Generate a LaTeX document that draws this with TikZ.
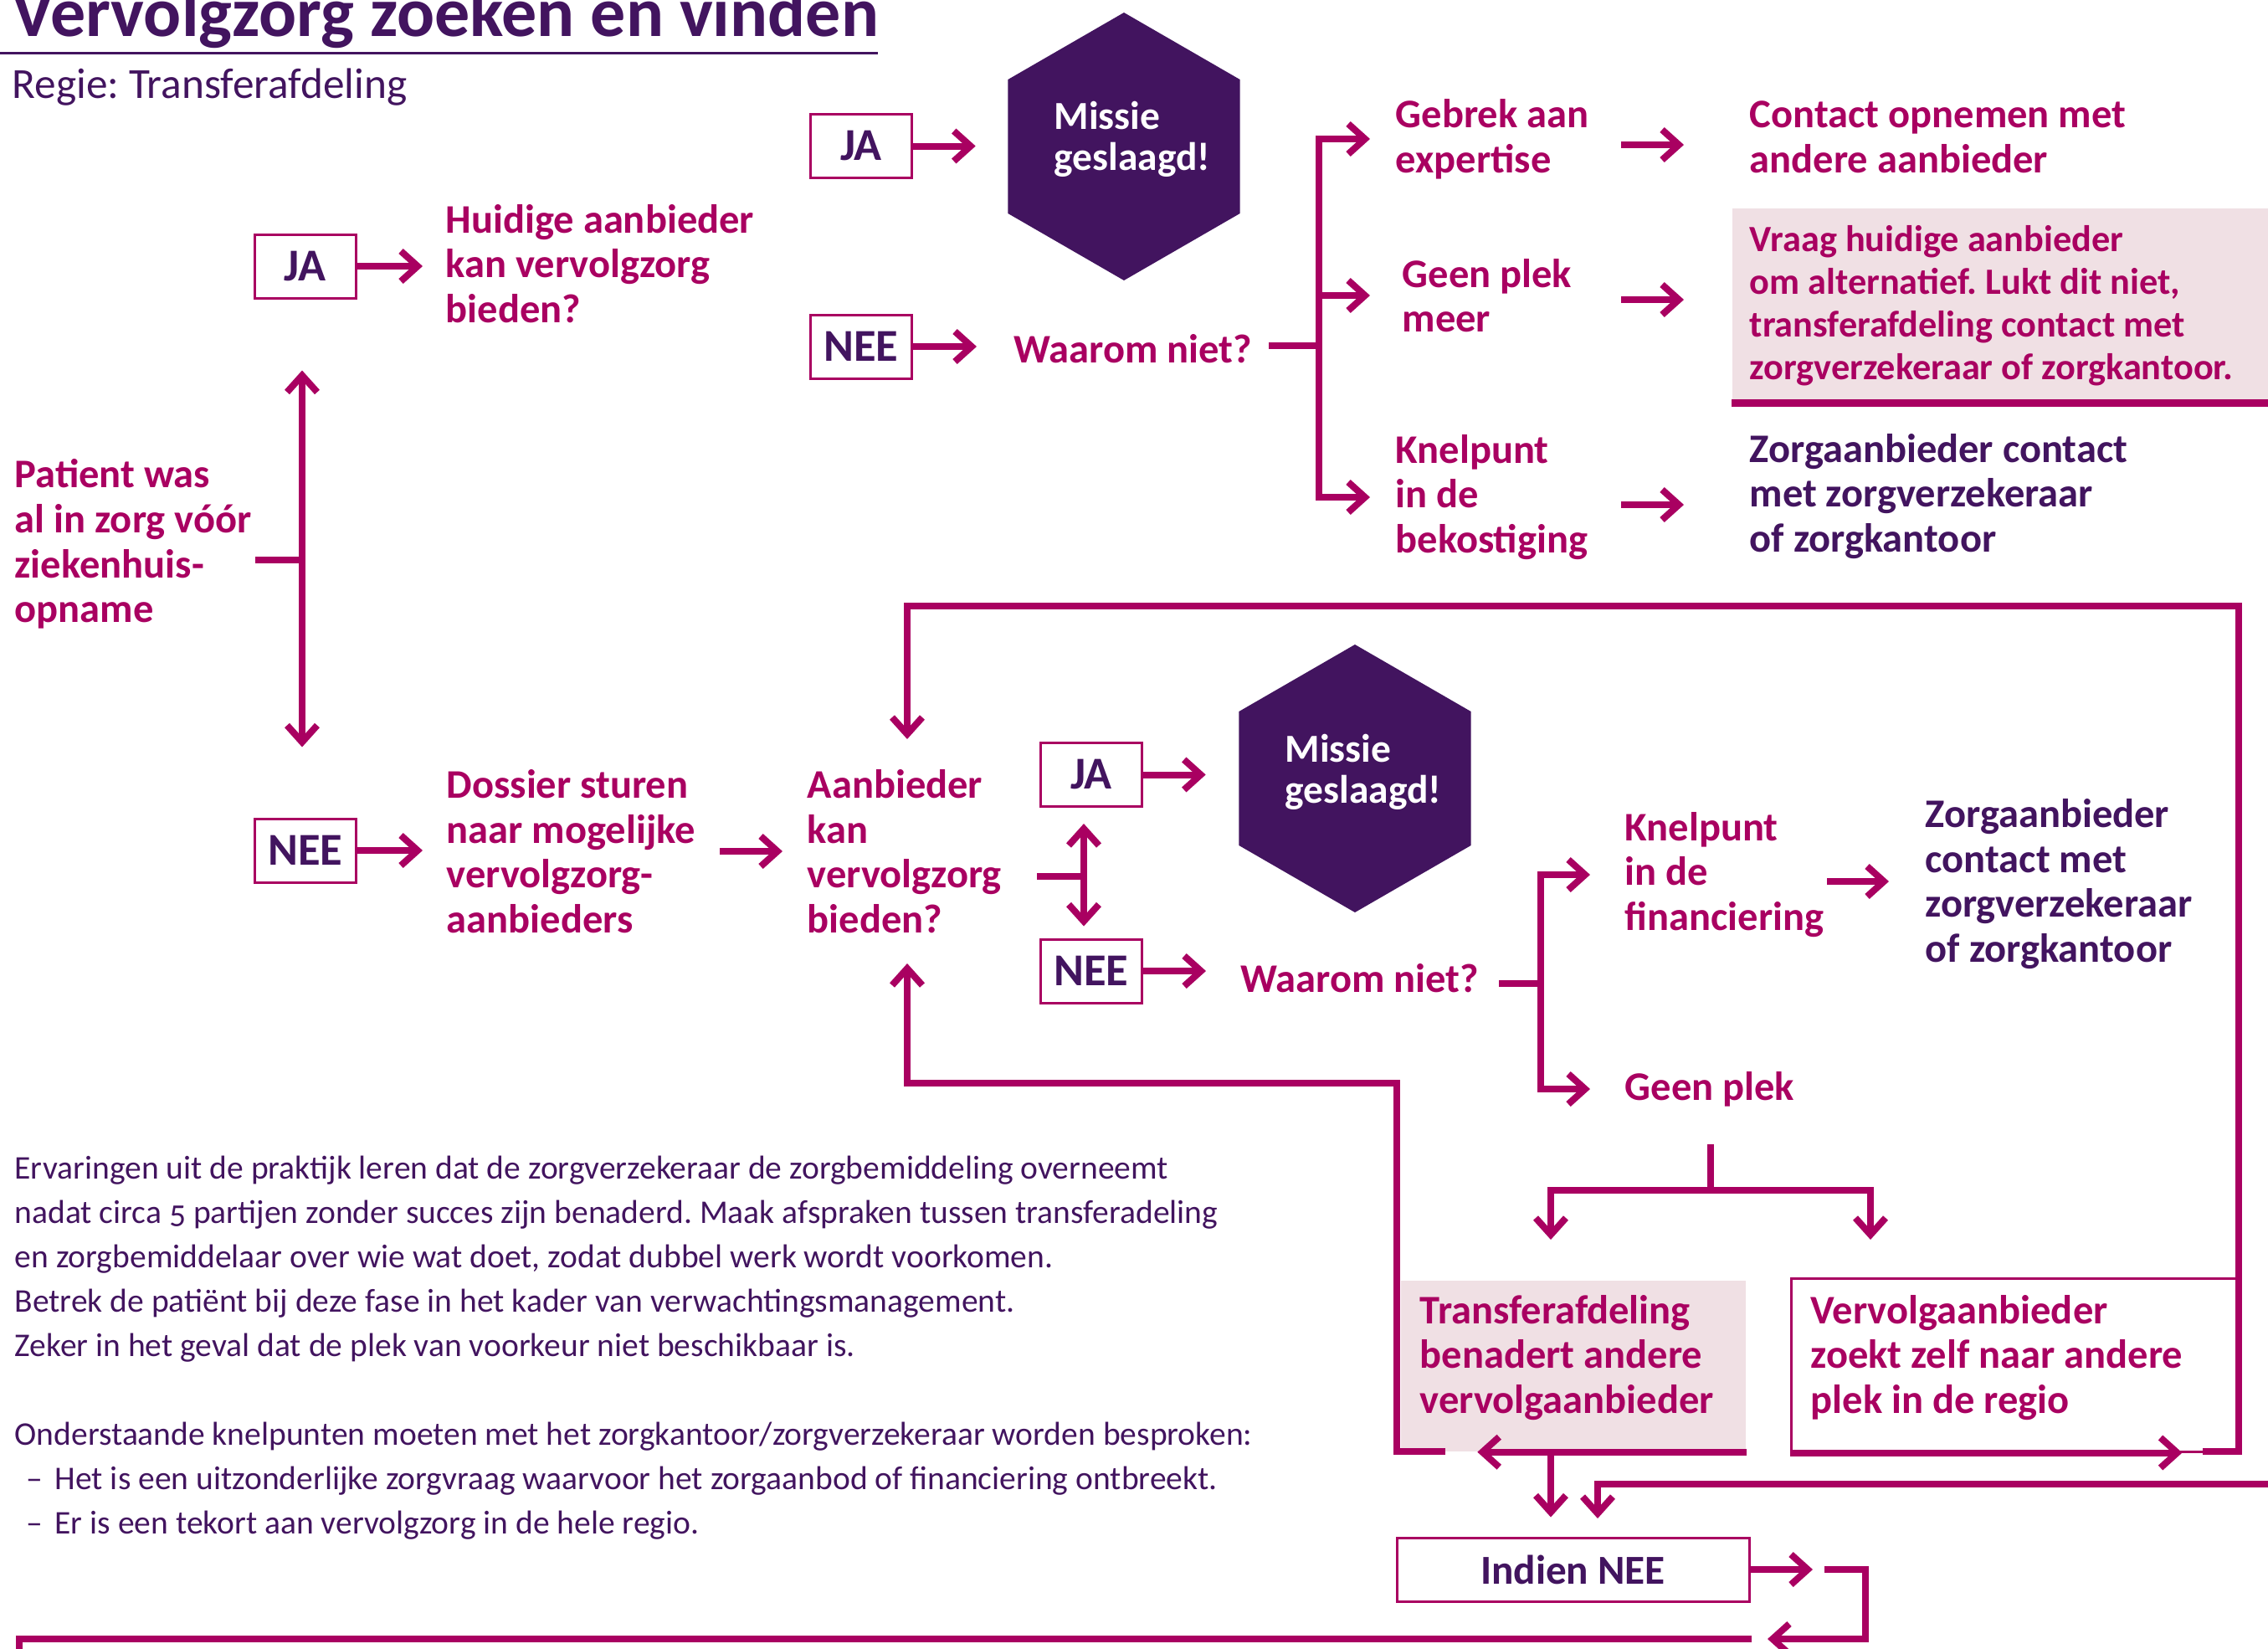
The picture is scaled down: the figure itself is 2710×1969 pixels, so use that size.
\documentclass[tikz,border=0pt]{standalone}
\usepackage{fontspec}
\setmainfont{Carlito}
\usepackage{tikz}
\usetikzlibrary{arrows.meta,shapes.geometric}
\definecolor{robijn}{HTML}{A90061}
\definecolor{paars}{HTML}{42145F}
\definecolor{roze}{HTML}{F0E0E4}
\frenchspacing

\begin{document}
\begin{tikzpicture}[x=0.1mm,y=-0.1mm]
\tikzstyle{tekst}=
[
	anchor=west, inner sep=0pt, align=flush left, text=robijn,
	font=\bfseries\fontsize{13.8}{15.25}\selectfont
]
\tikzstyle{donker}=[tekst, text=paars]
\tikzstyle{wit}=[tekst, text=white, font=\bfseries\fontsize{13.5}{14}\selectfont]
\tikzstyle{keuze}=
[
	draw=robijn, line width=0.3mm, minimum width=12.1mm, minimum height=7.6mm,
	inner sep=0pt, text=paars, font=\bfseries\fontsize{15.5}{18}\selectfont
]
\tikzstyle{zeshoek}=
[
	regular polygon, regular polygon sides=6, shape border rotate=30,
	minimum size=32mm, inner sep=0pt, fill=paars
]
\tikzstyle{lijn}=[draw=robijn, line width=0.8mm]
\tikzstyle{pijl}=[lijn, -{Straight Barb[length=2mm,width=3.6mm]}]
\tikzstyle{dubbelpijl}=[lijn, {Straight Barb[length=2mm,width=3.6mm]}-{Straight Barb[length=2mm,width=3.6mm]}]

\useasboundingbox (0,0) rectangle (2710,1969);

\node[anchor=base west, inner sep=0pt, text=paars, font=\bfseries\fontsize{23.9}{28}\selectfont] (titel) at (14,43) {Vervolgzorg zoeken en vinden};
\coordinate (streepL) at (0,63);
\coordinate (streepR) at (1049,63);
\draw[paars, line width=0.3mm] (streepL) -- (streepR);
\node[anchor=base west, inner sep=0pt, text=paars, font=\fontsize{14.6}{17}\selectfont] (regie) at (14,117) {Regie: Transferafdeling};

\node[keuze] (ja1) at (364.5,318) {JA};
\node[keuze] (nee1) at (365,1016) {NEE};
\node[tekst] (huidige) at (532,315) {Huidige aanbieder\\kan vervolgzorg\\bieden?};
\node[tekst] (patient) at (17,650) {Patient was\\al in zorg vóór\\ziekenhuis-\\opname};
\node[tekst] (dossier) at (533,1017) {Dossier sturen\\naar mogelijke\\vervolgzorg-\\aanbieders};
\node[tekst] (aanbieder) at (964,1017) {Aanbieder\\kan\\vervolgzorg\\bieden?};

\node[keuze] (ja3) at (1029,174.5) {JA};
\node[keuze] (nee3) at (1029,414) {NEE};
\node[zeshoek] (hex1) at (1343,175) {};
\node[wit] (missie1) at (1259,166) {Missie\\geslaagd!};
\node[tekst] (waarom1) at (1211,417) {Waarom niet?};
\node[tekst] (gebrek) at (1667,166) {Gebrek aan\\expertise};
\node[tekst] (geenmeer) at (1675,353) {Geen plek\\meer};
\node[tekst] (knelbek) at (1667,594) {Knelpunt\\in de\\bekostiging};
\node[tekst] (contact) at (2090,164) {Contact opnemen met\\andere aanbieder};
\node[anchor=west, fill=roze, minimum width=71.1mm, minimum height=23.2mm, text width=66.9mm, inner xsep=2.1mm, inner ysep=0pt, align=flush left, text=robijn, font=\bfseries\fontsize{12.6}{14.5}\selectfont] (vraag) at (2069,365) {Vraag huidige aanbieder\\om alternatief. Lukt dit niet,\\transferafdeling contact met\\zorgverzekeraar of zorgkantoor.};
\node[donker] (zorg1) at (2090,593) {Zorgaanbieder contact\\met zorgverzekeraar\\of zorgkantoor};

\node[keuze] (ja2) at (1304,925.5) {JA};
\node[keuze] (nee2) at (1304,1160) {NEE};
\node[zeshoek] (hex2) at (1619,930) {};
\node[wit] (missie2) at (1535,922) {Missie\\geslaagd!};
\node[tekst] (waarom2) at (1482,1169) {Waarom niet?};
\node[tekst] (knelfin) at (1941,1045) {Knelpunt\\in de\\financiering};
\node[donker] (zorg2) at (2300,1056) {Zorgaanbieder\\contact met\\zorgverzekeraar\\of zorgkantoor};
\node[tekst] (geenplek) at (1941,1301) {Geen plek};

\node[fill=roze, minimum width=41.2mm, minimum height=20.4mm, inner sep=0pt] (transfer) at (1880,1632) {};
\node[tekst] (transfertekst) at (1696,1622) {Transferafdeling\\benadert andere\\vervolgaanbieder};
\node[draw=robijn, line width=0.3mm, minimum width=53.5mm, minimum height=20.7mm, inner sep=0pt] (vervolg) at (2407.5,1630.5) {};
\node[tekst] (vervolgtekst) at (2163,1622) {Vervolgaanbieder\\zoekt zelf naar andere\\plek in de regio};
\node[keuze, minimum width=42.1mm, font=\bfseries\fontsize{14}{17}\selectfont] (indien) at (1879.5,1875) {Indien NEE};

\node[anchor=west, inner sep=0pt, align=flush left, text=paars, font=\fontsize{11.25}{15.1}\selectfont\addfontfeatures{Numbers=OldStyle}] (toelichting) at (17,1610) {Ervaringen uit de praktijk leren dat de zorgverzekeraar de zorgbemiddeling overneemt\\nadat circa 5 partijen zonder succes zijn benaderd. Maak afspraken tussen transferadeling\\en zorgbemiddelaar over wie wat doet, zodat dubbel werk wordt voorkomen.\\Betrek de patiënt bij deze fase in het kader van verwachtingsmanagement.\\Zeker in het geval dat de plek van voorkeur niet beschikbaar is.\\[15.1pt]Onderstaande knelpunten moeten met het zorgkantoor/zorgverzekeraar worden besproken:\\\hspace*{1.4mm}\makebox[3.4mm][l]{–}Het is een uitzonderlijke zorgvraag waarvoor het zorgaanbod of financiering ontbreekt.\\\hspace*{1.4mm}\makebox[3.4mm][l]{–}Er is een tekort aan vervolgzorg in de hele regio.};

\draw[pijl, shorten >=2.7mm] (ja1.east) -- (huidige.west |- ja1.east);
\coordinate (stamA) at (305,669);
\coordinate (splitA) at (361,669);
\draw[lijn] (stamA) -- (splitA);
\draw[dubbelpijl, shorten <=8.5mm, shorten >=8.4mm] (splitA |- ja1.south) -- (splitA |- nee1.north);
\draw[pijl, shorten >=2.8mm] (nee1.east) -- (dossier.west |- nee1.east);
\coordinate (uitD) at (860,1017);
\draw[pijl, shorten >=2.9mm] (uitD) -- (aanbieder.west |- uitD);

\draw[pijl, shorten >=3.8mm] (ja3.east) -- (hex1.west |- ja3.east);
\draw[pijl, shorten >=4.4mm] (nee3.east) -- (waarom1.west |- nee3.east);
\coordinate (stamW) at (1516,413);
\coordinate (splitW) at (1576,413);
\draw[lijn] (stamW) -- (splitW);
\draw[pijl, shorten >=3mm] (splitW) |- (gebrek.west);
\draw[pijl, shorten >=3.8mm] (splitW) |- (geenmeer.west);
\draw[pijl, shorten >=3mm] (splitW) |- (knelbek.west);
\coordinate (uitG) at (1937,173);
\coordinate (uitM) at (1937,358);
\coordinate (uitB) at (1937,603);
\draw[pijl, shorten >=7.8mm] (uitG) -- (contact.west |- uitG);
\draw[pijl, shorten >=5.7mm] (uitM) -- (vraag.west |- uitM);
\draw[pijl, shorten >=7.8mm] (uitB) -- (zorg1.west |- uitB);
\draw[lijn, line width=0.9mm] (vraag.south west) -- (vraag.south east);

\coordinate (stamB) at (1239,1047);
\coordinate (splitB) at (1295,1047);
\draw[lijn] (stamB) -- (splitB);
\draw[dubbelpijl, shorten <=1.9mm, shorten >=1.4mm] (splitB |- ja2.south) -- (splitB |- nee2.north);
\draw[pijl, shorten >=3.9mm] (ja2.east) -- (hex2.west |- ja2.east);
\draw[pijl, shorten >=4.1mm] (nee2.east) -- (waarom2.west |- nee2.east);
\coordinate (stamC) at (1791,1175);
\coordinate (splitC) at (1841,1175);
\draw[lijn] (stamC) -- (splitC);
\draw[pijl, shorten >=4.1mm] (splitC) |- (knelfin.west);
\draw[pijl, shorten >=4.1mm] (splitC) |- (geenplek.west);
\coordinate (uitK) at (2183,1053);
\draw[pijl, shorten >=4.3mm] (uitK) -- (zorg2.west |- uitK);

\coordinate (stamG) at (2044,1367);
\coordinate (splitG) at (2044,1422);
\coordinate (inT) at (1853,1481);
\coordinate (inV) at (2235,1481);
\draw[pijl] (stamG) -- (splitG) -| (inT);
\draw[pijl] (splitG) -| (inV);

\draw[pijl, shorten >=9.2mm] (transfer.south east) -- (transfer.south west);
\coordinate (lusC) at (1727,1734);
\coordinate (lusD) at (1669,1294);
\coordinate (inB) at (1084,1151);
\draw[pijl] (lusC) -| (lusD) -| (inB);

\draw[pijl, shorten >=6.9mm] (vervolg.south west) -- (vervolg.south east);
\coordinate (lusA) at (2632,1734);
\coordinate (lusB) at (2675,724);
\coordinate (inA) at (1084,883);
\draw[pijl] (lusA) -| (lusB) -| (inA);

\draw[pijl, shorten >=2.3mm] (inT |- transfer.south) -- (inT |- indien.north);
\coordinate (rand) at (2720,1773);
\coordinate (inI) at (1909,1814);
\draw[pijl] (rand) -| (inI);

\coordinate (uit1) at (2166,1875);
\draw[pijl] (indien.east) -- (uit1);
\coordinate (uit2) at (2180,1875);
\coordinate (uit3) at (2229,1958);
\coordinate (uit4) at (2112,1958);
\draw[pijl] (uit2) -| (uit3) -- (uit4);
\coordinate (uit5) at (2093,1958);
\coordinate (onder) at (23,1990);
\draw[lijn] (uit5) -| (onder);
\end{tikzpicture}
\end{document}
